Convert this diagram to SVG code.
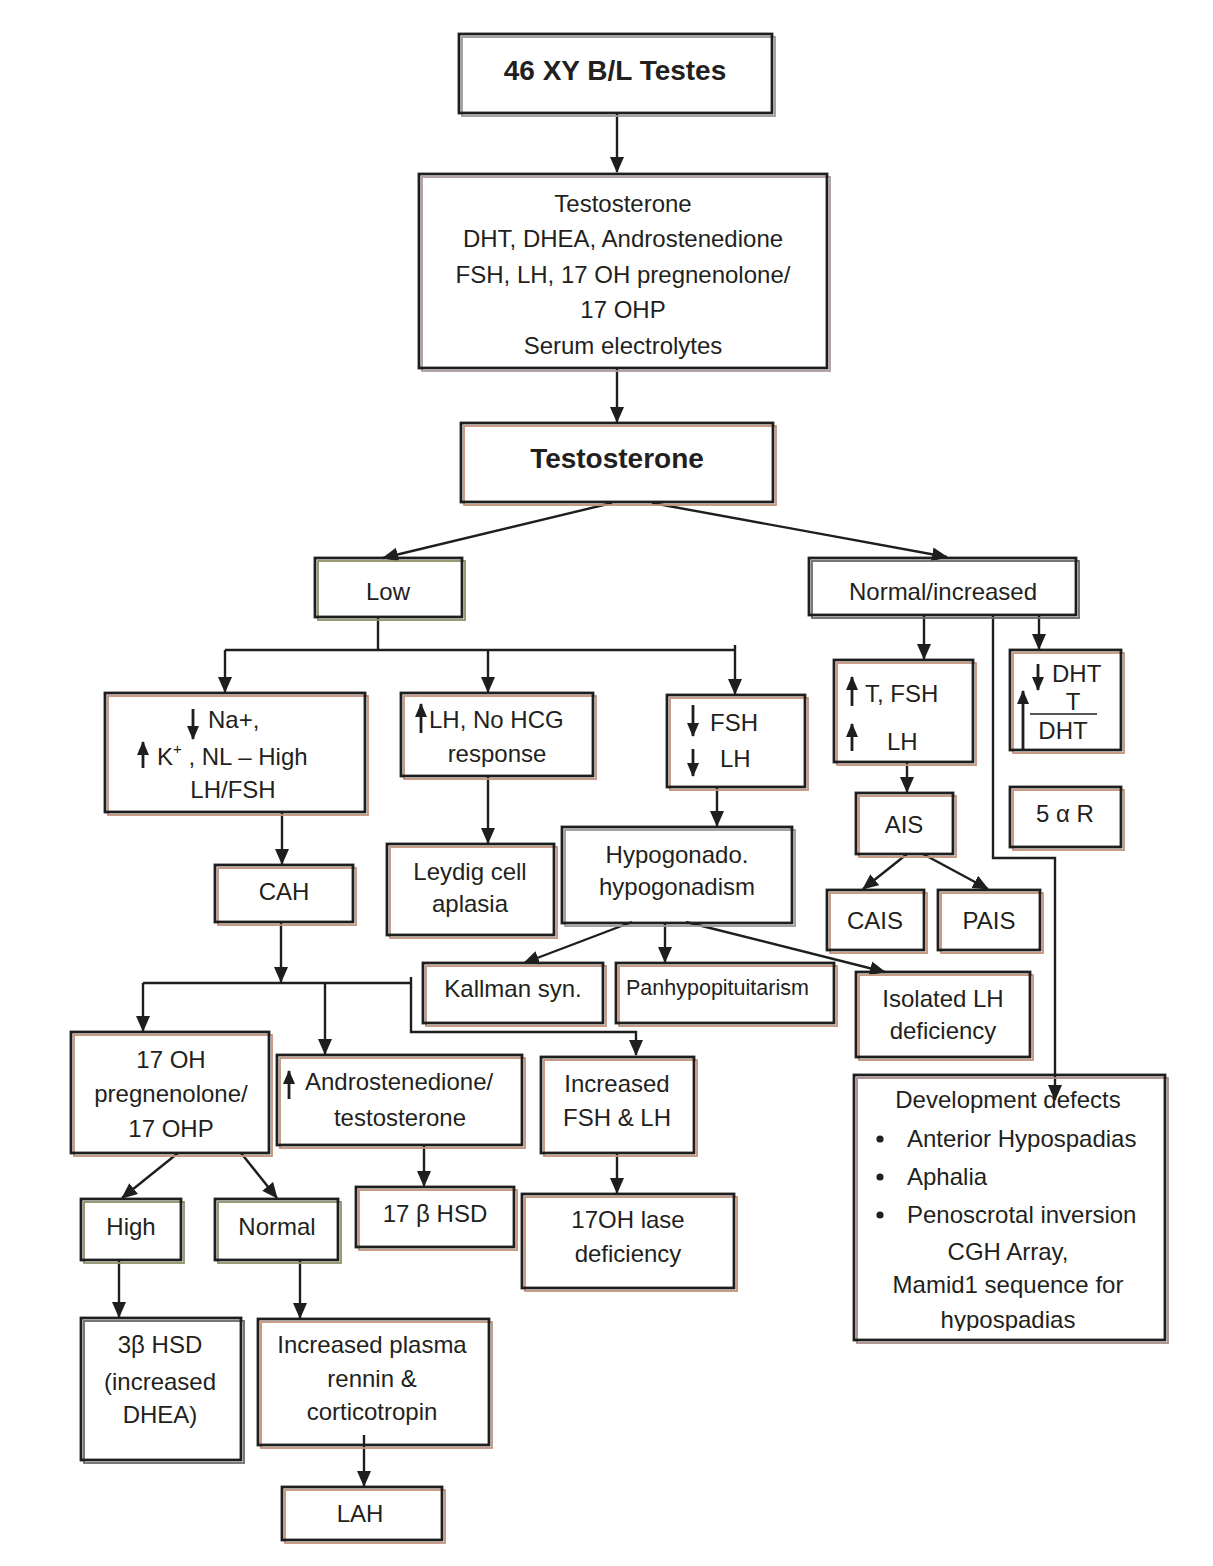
<svg xmlns="http://www.w3.org/2000/svg" width="1213" height="1566" viewBox="0 0 1213 1566">
<style>
.b{fill:none;stroke:#1e1e1e;stroke-width:2.8}
.s{fill:none;stroke:#c4927a;stroke-width:1.8}
.so{fill:none;stroke:#8f8f68;stroke-width:1.8}
.sg{fill:none;stroke:#9a9a9a;stroke-width:1.8}
.sp{fill:none;stroke:#ad9aa2;stroke-width:1.8}
.sd{fill:none;stroke:#6a6a6a;stroke-width:1.8}
text{font-family:"Liberation Sans",Arial,Helvetica,sans-serif;font-size:24px;fill:#231f20}
.m{text-anchor:middle}
.h{font-weight:bold;font-size:28px}
.c{fill:none;stroke:#1e1e1e;stroke-width:2.4}
.ia{fill:none;stroke:#1e1e1e;stroke-width:2.8}
</style>
<defs>
<marker id="ar" markerUnits="userSpaceOnUse" markerWidth="16" markerHeight="14" refX="15" refY="7" orient="auto">
<path d="M0,0 L16,7 L0,14 z" fill="#1e1e1e"/>
</marker>
<marker id="ai" markerUnits="userSpaceOnUse" markerWidth="14" markerHeight="12" refX="13" refY="6" orient="auto">
<path d="M0,0 L14,6 L0,12 z" fill="#1e1e1e"/>
</marker>
<clipPath id="devclip"><rect x="854" y="1075" width="311" height="256"/></clipPath>
</defs>
<rect width="1213" height="1566" fill="#ffffff"/>

<g id="connectors">
<path class="c" d="M617,113 V172" marker-end="url(#ar)"/>
<path class="c" d="M617,368 V422" marker-end="url(#ar)"/>
<path class="c" d="M612,503 L383,558" marker-end="url(#ar)"/>
<path class="c" d="M652,503 L947,557" marker-end="url(#ar)"/>
<path class="c" d="M378,617 V650 M225,650 H735"/>
<path class="c" d="M225,650 V692" marker-end="url(#ar)"/>
<path class="c" d="M488,650 V692" marker-end="url(#ar)"/>
<path class="c" d="M735,645 V694" marker-end="url(#ar)"/>
<path class="c" d="M282,812 V864" marker-end="url(#ar)"/>
<path class="c" d="M488,776 V843" marker-end="url(#ar)"/>
<path class="c" d="M717,787 V826" marker-end="url(#ar)"/>
<path class="c" d="M281,922 V982" marker-end="url(#ar)"/>
<path class="c" d="M143,983 H411"/>
<path class="c" d="M143,983 V1031" marker-end="url(#ar)"/>
<path class="c" d="M325,983 V1054" marker-end="url(#ar)"/>
<path class="c" d="M411,977 V1032 H636 V1055" marker-end="url(#ar)"/>
<path class="c" d="M632,922 L524,963" marker-end="url(#ar)"/>
<path class="c" d="M665,922 V962" marker-end="url(#ar)"/>
<path class="c" d="M686,922 L885,972" marker-end="url(#ar)"/>
<path class="c" d="M924,615 V659" marker-end="url(#ar)"/>
<path class="c" d="M1039,615 V649" marker-end="url(#ar)"/>
<path class="c" d="M993,615 V858 H1055 V1100" marker-end="url(#ar)"/>
<path class="c" d="M907,762 V792" marker-end="url(#ar)"/>
<path class="c" d="M907,854 L863,889" marker-end="url(#ar)"/>
<path class="c" d="M923,854 L988,889" marker-end="url(#ar)"/>
<path class="c" d="M178,1153 L122,1198" marker-end="url(#ar)"/>
<path class="c" d="M241,1153 L277,1198" marker-end="url(#ar)"/>
<path class="c" d="M119,1260 V1317" marker-end="url(#ar)"/>
<path class="c" d="M300,1260 V1318" marker-end="url(#ar)"/>
<path class="c" d="M364,1435 V1486" marker-end="url(#ar)"/>
<path class="c" d="M424,1145 V1186" marker-end="url(#ar)"/>
<path class="c" d="M617,1153 V1193" marker-end="url(#ar)"/>
</g>

<g id="n-46xy">
<rect class="sg" x="462" y="37" width="313" height="79"/>
<rect class="b" x="459" y="34" width="313" height="79"/>
<text class="m h" x="615" y="80">46 XY B/L Testes</text>
</g>

<g id="n-tests">
<rect class="sp" x="422" y="177" width="408" height="194"/>
<rect class="b" x="419" y="174" width="408" height="194"/>
<text class="m" x="623" y="212">Testosterone</text>
<text class="m" x="623" y="247">DHT, DHEA, Androstenedione</text>
<text class="m" x="623" y="283">FSH, LH, 17 OH pregnenolone/</text>
<text class="m" x="623" y="318">17 OHP</text>
<text class="m" x="623" y="354">Serum electrolytes</text>
</g>

<g id="n-testosterone">
<rect class="s" x="464" y="426" width="312" height="79"/>
<rect class="b" x="461" y="423" width="312" height="79"/>
<text class="m h" x="617" y="468">Testosterone</text>
</g>

<g id="n-low">
<rect class="so" x="318" y="561" width="147" height="59"/>
<rect class="b" x="315" y="558" width="147" height="59"/>
<text class="m" x="388" y="600">Low</text>
</g>

<g id="n-normal-increased">
<rect class="sd" x="812" y="561" width="267" height="57"/>
<rect class="b" x="809" y="558" width="267" height="57"/>
<text class="m" x="943" y="600">Normal/increased</text>
</g>

<g id="n-na-k">
<rect class="s" x="108" y="696" width="260" height="119"/>
<rect class="b" x="105" y="693" width="260" height="119"/>
<path class="ia" d="M193,709 V739" marker-end="url(#ai)"/>
<text x="208" y="728">Na+,</text>
<path class="ia" d="M143,768 V742" marker-end="url(#ai)"/>
<text x="157" y="765">K<tspan font-size="15" dy="-11">+</tspan><tspan dy="11"> , NL – High</tspan></text>
<text class="m" x="233" y="798">LH/FSH</text>
</g>

<g id="n-lh-hcg">
<rect class="s" x="404" y="696" width="192" height="83"/>
<rect class="b" x="401" y="693" width="192" height="83"/>
<path class="ia" d="M421,733 V704" marker-end="url(#ai)"/>
<text x="429" y="728">LH, No HCG</text>
<text class="m" x="497" y="762">response</text>
</g>

<g id="n-fsh-lh">
<rect class="s" x="670" y="698" width="138" height="92"/>
<rect class="b" x="667" y="695" width="138" height="92"/>
<path class="ia" d="M693,705 V736" marker-end="url(#ai)"/>
<text x="710" y="731">FSH</text>
<path class="ia" d="M693,749 V776" marker-end="url(#ai)"/>
<text x="720" y="767">LH</text>
</g>

<g id="n-leydig">
<rect class="s" x="390" y="847" width="167" height="91"/>
<rect class="b" x="387" y="844" width="167" height="91"/>
<text class="m" x="470" y="880">Leydig cell</text>
<text class="m" x="470" y="912">aplasia</text>
</g>

<g id="n-hypogonado">
<rect class="sg" x="565" y="830" width="230" height="96"/>
<rect class="b" x="562" y="827" width="230" height="96"/>
<text class="m" x="677" y="863">Hypogonado.</text>
<text class="m" x="677" y="895">hypogonadism</text>
</g>

<g id="n-cah">
<rect class="s" x="218" y="868" width="138" height="57"/>
<rect class="b" x="215" y="865" width="138" height="57"/>
<text class="m" x="284" y="900">CAH</text>
</g>

<g id="n-t-fsh-lh">
<rect class="s" x="837" y="663" width="139" height="102"/>
<rect class="b" x="834" y="660" width="139" height="102"/>
<path class="ia" d="M852,706 V677" marker-end="url(#ai)"/>
<text x="865" y="702">T, FSH</text>
<path class="ia" d="M852,751 V724" marker-end="url(#ai)"/>
<text x="887" y="750">LH</text>
</g>

<g id="n-dht">
<rect class="s" x="1013" y="653" width="111" height="100"/>
<rect class="b" x="1010" y="650" width="111" height="100"/>
<path class="ia" d="M1038,664 V690" marker-end="url(#ai)"/>
<text x="1052" y="682">DHT</text>
<text class="m" x="1073" y="710">T</text>
<path d="M1030,714 H1097" stroke="#1e1e1e" stroke-width="1.6"/>
<text class="m" x="1063" y="739">DHT</text>
<path class="ia" d="M1023,750 V691" marker-end="url(#ai)"/>
</g>

<g id="n-5ar">
<rect class="s" x="1013" y="790" width="111" height="60"/>
<rect class="b" x="1010" y="787" width="111" height="60"/>
<text class="m" x="1065" y="822">5 α R</text>
</g>

<g id="n-ais">
<rect class="s" x="859" y="796" width="97" height="61"/>
<rect class="b" x="856" y="793" width="97" height="61"/>
<text class="m" x="904" y="833">AIS</text>
</g>

<g id="n-cais">
<rect class="s" x="830" y="893" width="97" height="60"/>
<rect class="b" x="827" y="890" width="97" height="60"/>
<text class="m" x="875" y="929">CAIS</text>
</g>

<g id="n-pais">
<rect class="s" x="941" y="893" width="102" height="60"/>
<rect class="b" x="938" y="890" width="102" height="60"/>
<text class="m" x="989" y="929">PAIS</text>
</g>

<g id="n-kallman">
<rect class="s" x="426" y="966" width="180" height="60"/>
<rect class="b" x="423" y="963" width="180" height="60"/>
<text class="m" x="513" y="997">Kallman syn.</text>
</g>

<g id="n-panhypo">
<rect class="s" x="619" y="966" width="218" height="60"/>
<rect class="b" x="616" y="963" width="218" height="60"/>
<text x="626" y="995" style="font-size:21.5px">Panhypopituitarism</text>
</g>

<g id="n-isolated-lh">
<rect class="s" x="859" y="975" width="174" height="85"/>
<rect class="b" x="856" y="972" width="174" height="85"/>
<text class="m" x="943" y="1007">Isolated LH</text>
<text class="m" x="943" y="1039">deficiency</text>
</g>

<g id="n-17oh">
<rect class="s" x="74" y="1035" width="198" height="121"/>
<rect class="b" x="71" y="1032" width="198" height="121"/>
<text class="m" x="171" y="1068">17 OH</text>
<text class="m" x="171" y="1102">pregnenolone/</text>
<text class="m" x="171" y="1137">17 OHP</text>
</g>

<g id="n-andro">
<rect class="s" x="280" y="1058" width="245" height="90"/>
<rect class="b" x="277" y="1055" width="245" height="90"/>
<path class="ia" d="M289,1099 V1071" marker-end="url(#ai)"/>
<text x="305" y="1090">Androstenedione/</text>
<text class="m" x="400" y="1126">testosterone</text>
</g>

<g id="n-inc-fsh-lh">
<rect class="s" x="544" y="1060" width="153" height="96"/>
<rect class="b" x="541" y="1057" width="153" height="96"/>
<text class="m" x="617" y="1092">Increased</text>
<text class="m" x="617" y="1126">FSH &amp; LH</text>
</g>

<g id="n-17bhsd">
<rect class="s" x="359" y="1190" width="158" height="60"/>
<rect class="b" x="356" y="1187" width="158" height="60"/>
<text class="m" x="435" y="1222">17 β HSD</text>
</g>

<g id="n-17oh-lase">
<rect class="s" x="525" y="1197" width="212" height="94"/>
<rect class="b" x="522" y="1194" width="212" height="94"/>
<text class="m" x="628" y="1228">17OH lase</text>
<text class="m" x="628" y="1262">deficiency</text>
</g>

<g id="n-high">
<rect class="so" x="84" y="1202" width="100" height="61"/>
<rect class="b" x="81" y="1199" width="100" height="61"/>
<text class="m" x="131" y="1235">High</text>
</g>

<g id="n-normal">
<rect class="so" x="218" y="1202" width="123" height="61"/>
<rect class="b" x="215" y="1199" width="123" height="61"/>
<text class="m" x="277" y="1235">Normal</text>
</g>

<g id="n-3bhsd">
<rect class="sd" x="84" y="1321" width="160" height="142"/>
<rect class="b" x="81" y="1318" width="160" height="142"/>
<text class="m" x="160" y="1353">3β HSD</text>
<text class="m" x="160" y="1390">(increased</text>
<text class="m" x="160" y="1423">DHEA)</text>
</g>

<g id="n-inc-plasma">
<rect class="s" x="261" y="1322" width="231" height="126"/>
<rect class="b" x="258" y="1319" width="231" height="126"/>
<text class="m" x="372" y="1353">Increased plasma</text>
<text class="m" x="372" y="1387">rennin &amp;</text>
<text class="m" x="372" y="1420">corticotropin</text>
</g>

<g id="n-lah">
<rect class="s" x="285" y="1490" width="160" height="53"/>
<rect class="b" x="282" y="1487" width="160" height="53"/>
<text class="m" x="360" y="1522">LAH</text>
</g>

<g id="n-development">
<rect fill="none" stroke="#a88a88" stroke-width="1.8" x="857" y="1078" width="311" height="265"/>
<rect class="b" x="854" y="1075" width="311" height="265"/>
<g clip-path="url(#devclip)">
<text class="m" x="1008" y="1108">Development defects</text>
<circle cx="880" cy="1139" r="3.6" fill="#231f20"/>
<text x="907" y="1147">Anterior Hypospadias</text>
<circle cx="880" cy="1177" r="3.6" fill="#231f20"/>
<text x="907" y="1185">Aphalia</text>
<circle cx="880" cy="1215" r="3.6" fill="#231f20"/>
<text x="907" y="1223">Penoscrotal inversion</text>
<text class="m" x="1008" y="1260">CGH Array,</text>
<text class="m" x="1008" y="1293">Mamid1 sequence for</text>
<text class="m" x="1008" y="1328">hypospadias</text>
</g>
</g>
</svg>
